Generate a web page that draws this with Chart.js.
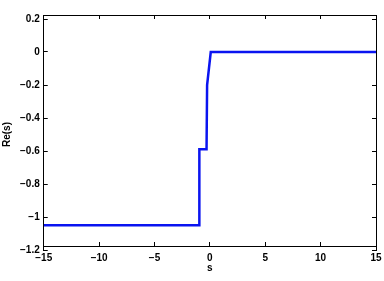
<!DOCTYPE html>
<html><head><meta charset="utf-8">
<script src="https://cdn.jsdelivr.net/npm/chart.js@4/dist/chart.umd.min.js"></script>
<style>html,body{margin:0;padding:0;background:#fff}#w{width:384px;height:281px}</style>
</head><body><div id="w"><canvas id="c"></canvas></div>
<script>
const sValues = [-15, -0.95, -0.95, -0.3, -0.25, 0.08, 15];
const reValues = [-1.05, -1.05, -0.59, -0.59, -0.2, 0, 0];
const xRange = [-15, 15], xStep = 5;
const yRange = [-1.2, 0.2], yStep = 0.2;

const fmt = v => String(Math.round(v * 10) / 10).replace('-', '\u2212');
const font = () => ({family: '"Liberation Sans", Arial, sans-serif', size: 10, weight: 'bold', lineHeight: 1});
const grid = () => ({display: true, drawOnChartArea: false, drawTicks: true, tickLength: -4, color: '#000', lineWidth: 1});
const border = () => ({display: true, color: '#000', width: 1});

new Chart(document.getElementById('c'), {
  type: 'scatter',
  data: {
    datasets: [{
      data: sValues.map((s, i) => ({x: s, y: reValues[i]})),
      xAxisID: 'x', yAxisID: 'y',
      showLine: true,
      borderColor: '#0a14f0',
      borderWidth: 2.5,
      pointRadius: 0,
      fill: false,
      tension: 0
    }]
  },
  options: {
    responsive: true,
    maintainAspectRatio: false,
    animation: false,
    layout: {padding: {left: 0, right: 8, top: 19, bottom: 0}},
    plugins: {legend: {display: false}, tooltip: {enabled: false}},
    scales: {
      xb: {
        type: 'linear', position: 'bottom', weight: -1, min: xRange[0], max: xRange[1],
        grid: grid(), border: border(),
        ticks: {display: false, stepSize: xStep}
      },
      x: {
        type: 'linear', position: 'bottom', weight: 0, min: xRange[0], max: xRange[1],
        grid: {display: true, drawOnChartArea: false, drawTicks: true, tickLength: 11, color: 'rgba(0,0,0,0)', tickColor: 'rgba(0,0,0,0)'},
        border: {display: false},
        ticks: {color: '#000', font: font(), stepSize: xStep, padding: 0, maxRotation: 0, callback: v => fmt(v)},
        title: {display: true, text: 's', color: '#000', font: font(), padding: {top: 0, bottom: 0}}
      },
      x2: {
        type: 'linear', position: 'top', min: xRange[0], max: xRange[1],
        grid: grid(), border: border(),
        ticks: {display: false, stepSize: xStep}
      },
      y: {
        type: 'linear', position: 'left', min: yRange[0], max: yRange[1],
        grid: grid(), border: border(),
        ticks: {color: '#000', font: font(), stepSize: yStep, padding: 8, callback: v => fmt(v)},
        title: {display: true, text: 'Re(s)', color: '#000', font: font(), padding: {top: 2, bottom: 0}}
      },
      y2: {
        type: 'linear', position: 'right', min: yRange[0], max: yRange[1],
        grid: grid(), border: border(),
        ticks: {display: false, stepSize: yStep}
      }
    }
  }
});
</script></body></html>
